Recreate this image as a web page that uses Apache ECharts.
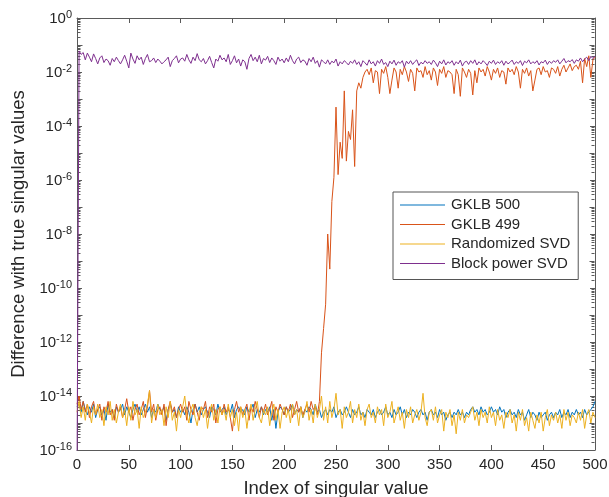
<!DOCTYPE html>
<html>
<head>
<meta charset="utf-8">
<script src="https://cdn.jsdelivr.net/npm/echarts@6/dist/echarts.min.js"></script>
<style>html,body{margin:0;padding:0;background:#fff;}#c{width:609px;height:497px;}</style>
</head>
<body>
<div id="c"></div>
<script>
// x positions (index of singular value), sampled every 2
const indexValues = [];
for (let i = 0; i <= 500; i += 2) indexValues.push(i);

// values are stored as log10 of the difference
const gklb500Log = [-14.4,
-14.3,-14.6,-14.2,-14.5,-14.7,-14.4,-14.6,-14.3,-14.8,-14.5,
-14.4,-14.7,-14.5,-14.9,-14.3,-14.6,-14.5,-14.8,-14.4,-14.6,
-14.5,-14.3,-14.7,-14.4,-14.6,-14.8,-14.5,-14.3,-14.6,-14.4,
-14.7,-14.5,-14.3,-14.6,-14.4,-14.8,-14.5,-14.6,-14.3,-14.5,
-14.6,-14.4,-14.9,-14.5,-14.3,-14.6,-14.5,-14.8,-14.4,-14.6,
-14.5,-14.7,-14.4,-14.6,-15.0,-14.5,-14.3,-14.6,-14.4,-14.7,
-14.5,-14.4,-14.6,-14.8,-14.4,-14.5,-14.7,-14.3,-14.6,-14.5,
-14.4,-14.7,-14.5,-14.6,-14.3,-14.8,-14.5,-14.4,-14.6,-14.5,
-14.7,-14.4,-14.6,-14.5,-14.3,-14.8,-14.5,-14.6,-14.4,-14.7,
-14.5,-14.6,-14.4,-14.9,-14.5,-15.2,-14.6,-14.4,-14.5,-14.7,
-14.4,-14.6,-14.5,-14.3,-14.7,-14.5,-14.6,-14.4,-14.8,-14.5,
-14.6,-14.4,-14.5,-14.7,-14.3,-14.6,-14.5,-14.8,-14.6,-14.5,
-14.7,-14.5,-14.6,-14.4,-14.8,-14.6,-14.5,-14.7,-14.6,-14.4,
-14.6,-14.8,-14.5,-14.7,-14.6,-14.4,-14.7,-14.6,-14.8,-14.5,
-14.6,-14.7,-14.5,-14.8,-14.6,-14.5,-14.7,-14.6,-14.4,-14.7,
-14.6,-14.8,-14.5,-14.7,-14.6,-14.4,-14.7,-14.5,-14.8,-14.6,
-14.7,-14.5,-14.6,-14.8,-14.6,-14.5,-14.7,-14.6,-14.9,-14.6,
-14.5,-14.7,-14.6,-14.8,-14.5,-14.7,-14.6,-14.9,-14.7,-14.6,
-14.8,-14.6,-14.7,-14.5,-14.7,-14.6,-14.8,-14.6,-14.7,-14.5,
-14.4,-14.6,-14.5,-14.7,-14.4,-14.6,-14.5,-14.7,-14.6,-14.4,
-14.6,-14.5,-14.7,-14.4,-14.6,-14.5,-14.8,-14.6,-14.5,-14.7,
-14.6,-14.8,-14.5,-14.7,-14.6,-14.9,-14.7,-14.5,-14.8,-14.6,
-14.7,-14.9,-14.6,-14.8,-14.7,-14.6,-14.9,-14.7,-14.6,-14.8,
-14.6,-14.7,-14.5,-14.8,-14.6,-14.7,-14.5,-14.8,-14.6,-14.7,
-14.5,-14.7,-14.6,-14.8,-14.5,-14.7,-14.6,-14.5,-14.4,-14.2];

const gklb499Log = [-14.3,
-14.0,-14.5,-14.2,-14.6,-14.3,-14.8,-14.4,-14.2,-14.7,-14.5,
-14.3,-14.9,-14.4,-14.6,-14.2,-14.7,-14.5,-14.9,-14.3,-14.6,
-14.4,-14.8,-14.5,-14.1,-14.6,-14.4,-14.9,-14.5,-14.3,-14.7,
-14.5,-14.2,-14.8,-14.4,-13.8,-14.6,-14.3,-14.9,-14.5,-14.4,
-14.7,-14.3,-15.1,-14.5,-14.2,-14.6,-14.4,-14.8,-14.5,-14.3,
-14.6,-14.4,-14.9,-14.2,-14.5,-14.7,-14.3,-14.6,-14.9,-14.4,
-14.5,-14.2,-14.8,-14.4,-14.6,-14.3,-15.0,-14.5,-14.4,-14.7,
-14.3,-14.6,-14.4,-14.8,-15.3,-14.5,-14.2,-14.6,-14.4,-14.7,
-14.5,-14.3,-14.9,-14.4,-14.6,-14.2,-14.5,-14.8,-14.4,-14.6,
-14.3,-14.7,-14.5,-14.2,-14.9,-14.4,-14.6,-14.3,-14.5,-14.7,
-14.4,-14.6,-14.3,-14.8,-14.5,-14.2,-14.6,-14.4,-14.7,-14.5,
-14.3,-14.6,-14.2,-14.5,-14.4,-14.7,-14.2,-12.4,-11.5,-10.6,
-8.0,-9.3,-6.8,-5.9,-3.3,-5.8,-4.6,-5.2,-2.7,-5.3,
-4.2,-4.5,-3.4,-5.5,-2.7,-2.4,-2.6,-2.2,-2.0,-1.9,
-2.1,-1.85,-2.4,-1.95,-2.0,-2.8,-1.9,-2.05,-1.8,-2.2,
-2.8,-2.3,-1.85,-2.0,-2.6,-1.9,-2.1,-1.8,-2.0,-2.35,
-1.9,-2.05,-2.7,-1.85,-2.0,-1.95,-2.2,-1.8,-2.1,-1.95,
-2.3,-1.85,-2.0,-2.5,-1.9,-2.05,-1.8,-2.2,-1.95,-2.0,
-2.1,-2.8,-1.9,-2.1,-2.9,-1.85,-2.0,-2.2,-1.9,-2.05,
-2.85,-1.95,-2.4,-1.85,-2.0,-1.9,-2.15,-1.8,-2.0,-2.3,
-1.9,-2.05,-1.85,-2.2,-1.95,-2.0,-2.45,-1.85,-2.0,-1.9,
-2.1,-1.8,-2.0,-2.6,-1.9,-2.05,-1.85,-2.15,-1.95,-2.7,
-2.3,-1.9,-1.85,-2.1,-1.8,-2.0,-1.95,-2.2,-1.85,-1.9,
-2.05,-1.8,-2.15,-1.9,-1.75,-2.0,-1.85,-1.7,-1.95,-1.8,
-1.75,-1.9,-1.6,-2.4,-1.5,-1.8,-1.4,-2.2,-1.55,-1.45];

const randomizedSvdLog = [-14.6,
-14.2,-14.8,-14.4,-14.9,-14.3,-14.6,-15.0,-14.4,-14.7,-14.3,
-14.8,-14.5,-15.1,-14.4,-14.7,-14.2,-14.9,-14.5,-15.0,-14.6,
-14.3,-14.8,-14.5,-15.1,-14.4,-14.9,-14.2,-14.7,-14.5,-15.2,
-14.4,-14.8,-14.6,-14.3,-13.8,-15.0,-14.5,-14.8,-14.3,-14.7,
-14.5,-15.1,-14.4,-14.8,-14.2,-14.9,-14.6,-15.3,-14.5,-14.8,
-14.4,-14.0,-14.7,-15.0,-14.5,-14.3,-14.8,-15.1,-14.6,-14.4,
-14.8,-14.5,-15.2,-14.6,-14.3,-14.9,-14.5,-15.0,-14.4,-14.7,
-14.5,-14.9,-14.3,-14.8,-14.5,-15.1,-14.6,-15.3,-14.4,-14.8,
-14.5,-15.2,-14.6,-14.3,-14.9,-14.5,-14.2,-14.8,-15.0,-14.5,
-14.7,-14.4,-15.1,-14.6,-14.3,-14.9,-14.5,-15.2,-14.6,-14.4,
-14.8,-14.5,-15.0,-14.3,-14.7,-14.5,-15.1,-14.4,-14.8,-14.6,
-14.2,-14.9,-14.5,-15.0,-14.3,-14.8,-14.5,-14.0,-14.9,-14.4,
-15.0,-14.2,-14.8,-14.5,-13.9,-14.7,-14.5,-15.2,-14.4,-14.8,
-14.6,-14.2,-15.0,-14.5,-14.8,-14.3,-14.9,-14.6,-15.1,-14.5,
-14.3,-14.8,-14.6,-15.0,-14.4,-14.7,-14.5,-15.1,-14.3,-14.8,
-14.6,-14.2,-15.0,-14.7,-14.4,-14.9,-14.6,-15.2,-14.5,-14.8,
-14.4,-15.0,-14.7,-14.5,-14.9,-14.6,-13.9,-14.8,-15.1,-14.6,
-14.5,-14.9,-14.4,-15.0,-14.7,-14.5,-15.3,-14.6,-14.8,-14.5,
-15.1,-14.7,-15.4,-14.6,-14.9,-14.5,-15.0,-14.7,-14.8,-14.6,
-14.4,-14.9,-14.6,-15.1,-14.5,-14.8,-14.6,-15.0,-14.4,-14.8,
-14.6,-15.1,-14.5,-14.9,-14.7,-15.2,-14.6,-14.8,-14.5,-15.0,
-14.7,-15.3,-14.6,-14.9,-14.5,-15.1,-14.8,-15.3,-14.6,-14.9,
-15.2,-14.7,-15.0,-14.6,-15.3,-14.8,-14.5,-15.1,-14.7,-14.9,
-14.6,-15.0,-14.7,-15.2,-14.5,-14.9,-14.6,-15.1,-14.7,-14.8,
-15.0,-14.6,-14.9,-14.5,-15.2,-14.7,-14.5,-15.0,-14.6,-14.8];

const blockPowerSvdLog = [-17,
-1.22,-1.35,-1.28,-1.55,-1.30,-1.45,-1.62,-1.33,-1.50,-1.70,
-1.48,-1.40,-1.65,-1.52,-1.58,-1.75,-1.50,-1.62,-1.45,-1.58,
-1.70,-1.55,-1.38,-1.60,-1.85,-1.30,-1.52,-1.68,-1.40,-1.55,
-1.45,-1.72,-1.50,-1.35,-1.62,-1.58,-1.48,-1.65,-1.52,-1.60,
-1.70,-1.62,-1.55,-1.45,-1.80,-1.58,-1.50,-1.40,-1.66,-1.52,
-1.48,-1.60,-1.35,-1.55,-1.68,-1.45,-1.58,-1.32,-1.55,-1.62,
-1.50,-1.70,-1.58,-1.42,-1.65,-1.85,-1.52,-1.60,-1.38,-1.55,
-1.48,-1.62,-1.35,-1.72,-1.58,-1.40,-1.66,-1.52,-1.78,-1.55,
-1.62,-1.90,-1.50,-1.35,-1.58,-1.45,-1.62,-1.38,-1.70,-1.50,
-1.56,-1.42,-1.65,-1.48,-1.58,-1.72,-1.45,-1.60,-1.52,-1.66,
-1.48,-1.62,-1.38,-1.58,-1.70,-1.52,-1.45,-1.65,-1.55,-1.60,
-1.75,-1.50,-1.62,-1.45,-1.68,-1.58,-1.82,-1.55,-1.62,-1.70,
-1.55,-1.72,-1.60,-1.66,-1.52,-1.78,-1.62,-1.70,-1.58,-1.65,
-1.74,-1.60,-1.68,-1.55,-1.72,-1.62,-1.80,-1.58,-1.66,-1.75,
-1.55,-1.70,-1.62,-1.78,-1.58,-1.68,-1.52,-1.72,-1.65,-1.80,
-1.60,-1.70,-1.56,-1.75,-1.62,-1.68,-1.58,-1.82,-1.60,-1.70,
-1.58,-1.72,-1.62,-1.55,-1.76,-1.64,-1.70,-1.58,-1.68,-1.62,
-1.72,-1.56,-1.66,-1.80,-1.60,-1.70,-1.55,-1.74,-1.62,-1.68,
-1.58,-1.75,-1.62,-1.70,-1.56,-1.78,-1.64,-1.60,-1.72,-1.58,
-1.68,-1.55,-1.74,-1.62,-1.70,-1.58,-1.66,-1.76,-1.60,-1.68,
-1.56,-1.72,-1.62,-1.68,-1.58,-1.75,-1.60,-1.70,-1.64,-1.56,
-1.72,-1.62,-1.68,-1.58,-1.76,-1.60,-1.66,-1.55,-1.70,-1.62,
-1.68,-1.58,-1.74,-1.62,-1.66,-1.56,-1.72,-1.60,-1.68,-1.58,
-1.64,-1.55,-1.70,-1.60,-1.50,-1.66,-1.58,-1.62,-1.54,-1.68,
-1.55,-1.60,-1.48,-1.62,-1.52,-1.45,-1.58,-1.42,-1.50,-1.40];

const seriesNames = ['GKLB 500', 'GKLB 499', 'Randomized SVD', 'Block power SVD'];
const seriesColors = ['#0072BD', '#D95319', '#EDB120', '#7E2F8E'];
const seriesLogValues = [gklb500Log, gklb499Log, randomizedSvdLog, blockPowerSvdLog];

const FONT = "'Liberation Sans', Arial, Helvetica, sans-serif";
const TXT = '#262626';
const AX = '#5a5a5a';

const chart = echarts.init(document.getElementById('c'), null, {renderer: 'canvas'});

const series = seriesNames.map((name, s) => ({
  name: name,
  type: 'line',
  showSymbol: false,
  symbol: 'none',
  clip: true,
  animation: false,
  lineStyle: {width: 1, color: seriesColors[s]},
  itemStyle: {color: seriesColors[s]},
  data: indexValues.map((x, i) => [x, Math.pow(10, seriesLogValues[s][i])])
}));

const yLabelFmt = v => {
  const e = Math.round(Math.log10(v));
  return '{b|10}{s|' + e + '}';
};

chart.setOption({
  backgroundColor: '#fff',
  animation: false,
  grid: {left: 77, right: 14, top: 18, bottom: 47, containLabel: false, outerBoundsMode: 'none'},
  legend: {
    orient: 'vertical',
    left: 393, top: 192,
    padding: [5, 8, 8, 7],
    icon: 'rect',
    itemWidth: 45, itemHeight: 1, itemGap: 3.5,
    borderColor: '#555', borderWidth: 1,
    backgroundColor: '#fff',
    textStyle: {fontFamily: FONT, fontSize: 15, color: TXT, lineHeight: 16, padding: [0, 0, 0, 1]},
    data: seriesNames
  },
  xAxis: [{
    type: 'value', min: 0, max: 500, interval: 50,
    name: 'Index of singular value', nameLocation: 'middle', nameGap: 29,
    nameTextStyle: {fontFamily: FONT, fontSize: 18.5, color: TXT},
    axisLine: {show: true, lineStyle: {color: AX, width: 1}},
    axisTick: {show: true, inside: true, length: 5, lineStyle: {color: AX}},
    axisLabel: {fontFamily: FONT, fontSize: 15, color: TXT, margin: 7},
    splitLine: {show: false}
  }, {
    type: 'value', min: 0, max: 500, interval: 50, position: 'top',
    axisLine: {show: true, onZero: false, lineStyle: {color: AX, width: 1}},
    axisTick: {show: true, inside: true, length: 5, lineStyle: {color: AX}},
    axisLabel: {show: false}, splitLine: {show: false}
  }],
  yAxis: [{
    type: 'log', logBase: 10, min: 1e-16, max: 1, interval: 2,
    name: 'Difference with true singular values', nameLocation: 'middle', nameGap: 45,
    nameTextStyle: {fontFamily: FONT, fontSize: 18.5, color: TXT},
    axisLine: {show: true, lineStyle: {color: AX, width: 1}},
    axisTick: {show: true, inside: true, length: 5, lineStyle: {color: AX}},
    axisLabel: {
      margin: 5, formatter: yLabelFmt,
      rich: {
        b: {fontFamily: FONT, fontSize: 15, color: TXT, verticalAlign: 'bottom'},
        s: {fontFamily: FONT, fontSize: 11, color: TXT, verticalAlign: 'bottom', padding: [0, 0, 6, 0]}
      }
    },
    splitLine: {show: false}
  }, {
    type: 'log', logBase: 10, min: 1e-16, max: 1, interval: 2, position: 'right',
    axisLine: {show: true, onZero: false, lineStyle: {color: AX, width: 1}},
    axisTick: {show: true, inside: true, length: 5, lineStyle: {color: AX}},
    axisLabel: {show: false}, splitLine: {show: false}
  }],
  series: series
});

// log minor ticks (2..9 of every decade) on left and right axes
function drawMinorTicks() {
  const xl = Math.round(chart.convertToPixel({xAxisIndex: 0}, 0)) + 0.5;
  const xr = Math.round(chart.convertToPixel({xAxisIndex: 0}, 500)) - 0.5;
  const els = [];
  for (let e = -16; e < 0; e++) {
    for (let k = 1; k <= 9; k++) {
      if (k === 1 && e % 2 === 0) continue;
      const y = Math.round(chart.convertToPixel({yAxisIndex: 0}, k * Math.pow(10, e))) + 0.5;
      const len = (k === 1) ? 5 : 3;
      els.push({type: 'line', silent: true, shape: {x1: xl, y1: y, x2: xl + len, y2: y}, style: {stroke: AX, lineWidth: 1}});
      els.push({type: 'line', silent: true, shape: {x1: xr - len, y1: y, x2: xr, y2: y}, style: {stroke: AX, lineWidth: 1}});
    }
  }
  chart.setOption({graphic: els});
}
drawMinorTicks();
</script>
</body>
</html>
